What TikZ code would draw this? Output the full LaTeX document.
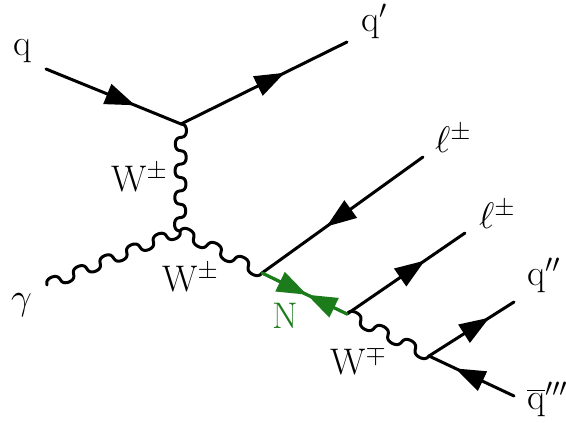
\RequirePackage{fix-cm}
\documentclass[tikz,border=0pt]{standalone}
\usepackage{amsmath}
\usetikzlibrary{arrows.meta,decorations.markings,calc}
\definecolor{ngreen}{RGB}{28,124,28}
\tikzset{
  x=1pt,y=1pt,
  fermion/.style={line width=3pt,line cap=round,postaction={decorate},decoration={markings,mark=at position #1 with {\arrow{Triangle[length=30pt,width=21pt]}}}},
  bosonline/.style={line width=3pt,line cap=round,line join=round},
  lbl/.style={font=\fontsize{37}{40}\selectfont,inner sep=0pt,anchor=base west},
}
% wave from #1 to #2 with #3 periods
\newcommand\wavy[3]{%
  \draw[bosonline] let \p1=($(#2)-(#1)$), \p2=(#1), \n1={veclen(\x1,\y1)} in
    plot[variable=\t,domain=0:1,samples=241,smooth]
    ({\x2+\t*\x1+(-1.7*sin(720*#3*\t))*\x1/\n1-(5.5*sin(360*#3*\t))*\y1/\n1},
     {\y2+\t*\y1+(-1.7*sin(720*#3*\t))*\y1/\n1+(5.5*sin(360*#3*\t))*\x1/\n1});
}
\begin{document}
\begin{tikzpicture}
\useasboundingbox (0,0) rectangle (566,423);
\coordinate (qin) at (46,354);
\coordinate (v1) at (181,299);
\coordinate (qout) at (347,381);
\coordinate (v2) at (180,192);
\coordinate (gam) at (47,138);
\coordinate (v3) at (262,150);
\coordinate (l1) at (423,266);
\coordinate (v4) at (347,109);
\coordinate (l2) at (465,190);
\coordinate (v5) at (429,67);
\coordinate (q2) at (514,121);
\coordinate (q3) at (514,27);
\wavy{v1}{v2}{4}
\wavy{gam}{v2}{5}
\wavy{v2}{v3}{3}
\wavy{v4}{v5}{3}
\draw[fermion=0.66] (qin) -- (v1);
\draw[fermion=0.625] (v1) -- (qout);
\draw[fermion=0.60] (l1) -- (v3);
\draw[fermion=0.66] (v4) -- (l2);
\draw[fermion=0.71] (v5) -- (q2);
\draw[fermion=0.69] (q3) -- (v5);
\draw[fermion=0.53,ngreen] (v3) -- (v4);
\draw[fermion=0.47,ngreen] (v4) -- (v3);
\node[lbl] (tq) at (13,367) {q};
\node[lbl] (tqp) at (361,391) {q$'$};
\node[lbl] (tw1) at (111,231) {W$^\pm$};
\node[lbl] (tw2) at (162,131) {W$^\pm$};
\node[lbl] (tg) at (11,113) {$\gamma$};
\node[lbl] (tl1) at (435,270) {$\ell^\pm$};
\node[lbl] (tl2) at (479,194) {$\ell^\pm$};
\node[lbl,text=ngreen] (tn) at (272,94) {N};
\node[lbl] (tw3) at (330,48) {W$^\mp$};
\node[lbl] (tq2) at (527,137) {q$''$};
\node[lbl] (tq3) at (527,13) {$\overline{\text{q}}'''$};
\end{tikzpicture}
\end{document}
